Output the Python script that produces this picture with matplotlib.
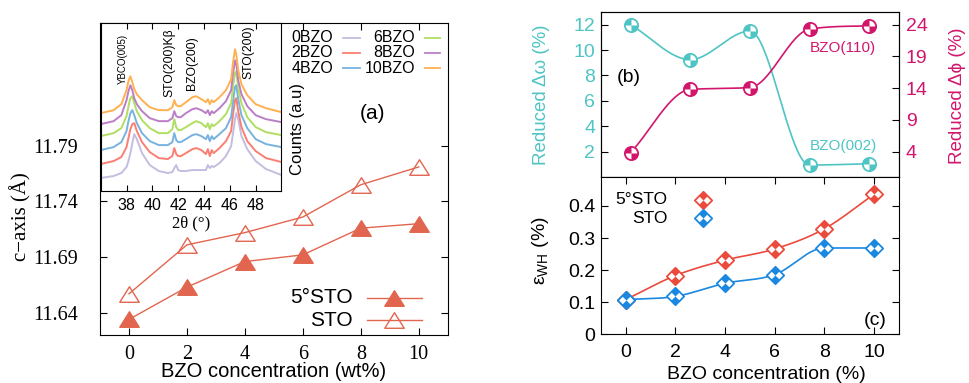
import numpy as np
import matplotlib
matplotlib.use('Agg')
import matplotlib.pyplot as plt
from matplotlib.path import Path

SANS = 'Liberation Sans'
SERIF = 'Liberation Serif'
plt.rcParams['font.family'] = [SANS, 'DejaVu Sans']
plt.rcParams['mathtext.fontset'] = 'custom'
plt.rcParams['mathtext.rm'] = SANS
plt.rcParams['mathtext.it'] = SANS + ':italic'

# ---------------- data ----------------
# panel (a)
a_conc = [0, 2, 4, 6, 8, 10]
a_5sto = [11.634, 11.663, 11.686, 11.692, 11.716, 11.720]
a_sto = [11.657, 11.701, 11.712, 11.726, 11.755, 11.771]
a_yticks = [11.64, 11.69, 11.74, 11.79]

# inset XRD (2theta grid, counts in arbitrary units incl. vertical offsets)
tth = [36.0, 37.0, 37.6, 38.0, 38.15, 38.3, 38.45, 38.6, 38.8, 39.2, 39.8, 40.5,
       41.2, 41.55, 41.7, 41.85, 42.0, 42.2, 42.6, 43.1, 43.4, 43.8, 44.15, 44.3,
       44.45, 44.6, 44.75, 45.2, 45.7, 46.1, 46.25, 46.4, 46.5, 46.65, 46.9, 47.35,
       48.0, 48.8, 50.0]
xrd_0bzo = [13, 15, 18, 24, 30, 38, 48, 57, 52, 38, 26, 20, 18, 19, 23, 26, 21, 20,
            20, 21, 21, 21, 21, 26, 23, 25, 24, 28, 35, 45, 58, 72, 78, 72, 55, 42,
            30, 22, 16]
xrd_2bzo = [27, 30, 34, 44, 53, 62, 67, 68, 60, 49, 39, 33, 32, 35, 43, 37, 35, 35,
            38, 42, 43, 41, 37, 42, 35, 41, 38, 43, 50, 60, 77, 91, 93, 80, 64, 50,
            40, 33, 29]
xrd_4bzo = [41, 44, 49, 60, 70, 78, 81, 76, 68, 58, 50, 46, 46, 49, 58, 51, 49, 49,
            52, 56, 57, 55, 52, 56, 50, 55, 52, 57, 63, 74, 90, 104, 106, 92, 76, 63,
            52, 47, 44]
xrd_6bzo = [55, 58, 63, 75, 85, 93, 95, 88, 80, 71, 63, 58, 58, 62, 72, 64, 61, 61,
            64, 68, 70, 68, 64, 68, 62, 67, 65, 70, 77, 88, 105, 118, 120, 103, 88,
            74, 64, 59, 56]
xrd_8bzo = [67, 70, 76, 91, 100, 106, 101, 93, 87, 80, 73, 70, 70, 73, 80, 75, 74,
            74, 78, 82, 83, 81, 78, 81, 76, 80, 78, 83, 90, 101, 118, 131, 127, 111,
            97, 85, 76, 72, 69]
xrd_10bzo = [78, 81, 87, 101, 110, 115, 109, 102, 97, 91, 84, 81, 81, 84, 91, 86, 85,
             85, 89, 94, 95, 92, 89, 92, 87, 91, 89, 94, 101, 112, 129, 142, 137, 121,
             107, 96, 87, 83, 79]
xrd_labels = ['0BZO', '2BZO', '4BZO', '6BZO', '8BZO', '10BZO']
xrd_colors = ['#c4bde0', '#fa7f72', '#78b2df', '#b0de62', '#bb7ec6', '#ffb050']

# panel (b)
b_pos = [1, 2, 3, 4, 5]
b_omega = [12.0, 9.25, 11.5, 0.95, 1.05]
b_phi = [3.85, 13.8, 14.1, 23.3, 23.8]

# panel (c)
c_conc = [0, 2, 4, 6, 8, 10]
c_5sto = [0.108, 0.183, 0.231, 0.266, 0.329, 0.437]
c_sto = [0.108, 0.118, 0.159, 0.186, 0.269, 0.269]

RED_A = '#e2664f'
CYAN = '#4fc4c4'
MAG = '#d2166c'
RED_C = '#ea4b3c'
BLUE_C = '#1a88e0'


def mono_spline(x, y, num=300):
    """Monotone (Fritsch-Carlson) cubic spline, like gnuplot 'smooth mcsplines'."""
    x = np.asarray(x, float)
    y = np.asarray(y, float)
    n = len(x)
    h = np.diff(x)
    delta = np.diff(y) / h
    m = np.zeros(n)
    m[0] = delta[0]
    m[-1] = delta[-1]
    for i in range(1, n - 1):
        if delta[i - 1] * delta[i] <= 0:
            m[i] = 0.0
        else:
            m[i] = 0.5 * (delta[i - 1] + delta[i])
    for k in range(n - 1):
        if delta[k] == 0:
            m[k] = m[k + 1] = 0.0
        else:
            a = m[k] / delta[k]
            b = m[k + 1] / delta[k]
            s = a * a + b * b
            if s > 9:
                t = 3 / np.sqrt(s)
                m[k] = t * a * delta[k]
                m[k + 1] = t * b * delta[k]
    xs = np.linspace(x[0], x[-1], num)
    idx = np.clip(np.searchsorted(x, xs) - 1, 0, n - 2)
    hk = h[idx]
    t = (xs - x[idx]) / hk
    h00 = 2 * t ** 3 - 3 * t ** 2 + 1
    h10 = t ** 3 - 2 * t ** 2 + t
    h01 = -2 * t ** 3 + 3 * t ** 2
    h11 = t ** 3 - t ** 2
    ys = h00 * y[idx] + h10 * hk * m[idx] + h01 * y[idx + 1] + h11 * hk * m[idx + 1]
    return xs, ys


# custom markers
tri = Path([(0, 0.8), (-1, -0.8), (1, -0.8), (0, 0.8)],
           [Path.MOVETO, Path.LINETO, Path.LINETO, Path.CLOSEPOLY])
diam = Path([(0, 1), (1, 0), (0, -1), (-1, 0), (0, 1)],
            [Path.MOVETO, Path.LINETO, Path.LINETO, Path.LINETO, Path.CLOSEPOLY])
diam_fill = Path([(0, 1), (0.5, 0.5), (0, 0), (-0.5, 0.5), (0, 1),
                  (0, 0), (0.5, -0.5), (0, -1), (-0.5, -0.5), (0, 0)],
                 [Path.MOVETO, Path.LINETO, Path.LINETO, Path.LINETO, Path.CLOSEPOLY] * 2)
circ_fill = Path.make_compound_path(Path.wedge(90, 180), Path.wedge(270, 360))

fig = plt.figure(figsize=(9.69, 3.83), dpi=100)

# ---------------- panel (a) ----------------
axa = fig.add_axes([0.1032, 0.1253, 0.3588, 0.8137])
axa.plot(a_conc, a_5sto, '-', color=RED_A, lw=1.0, marker=tri, ms=14,
         mfc=RED_A, mec=RED_A, mew=1.0)
axa.plot(a_conc, a_sto, '-', color=RED_A, lw=1.0, marker=tri, ms=14,
         mfc='none', mec=RED_A, mew=1.0)
axa.set_xlim(-1, 11)
axa.set_ylim(11.62, 11.90)
axa.set_xticks(a_conc)
axa.set_yticks(a_yticks)
axa.set_yticklabels([f'{v:.2f}' for v in a_yticks])
axa.tick_params(direction='in', length=5, top=True, right=True, width=0.8)
axa.tick_params(axis='y', pad=16)
axa.tick_params(axis='x', pad=7)
for lab in axa.get_xticklabels() + axa.get_yticklabels():
    lab.set_fontfamily(SERIF)
    lab.set_fontsize(14.5)
axa.set_xlabel('BZO concentration (wt%)', fontsize=14.5)
axa.xaxis.set_label_coords(0.5, -0.088)
axa.set_ylabel('c\u2212axis (Å)', fontsize=15, fontfamily=SERIF)
axa.yaxis.set_label_coords(-0.196, 0.38)
axa.text(0.785, 0.712, '(a)', transform=axa.transAxes, fontsize=15,
         ha='center', va='center')
# legend (manual, right aligned text)
for yy, lab, face in [(0.12, '5°STO', RED_A), (0.048, 'STO', 'none')]:
    axa.text(0.727, yy, lab, transform=axa.transAxes, fontsize=15,
             ha='right', va='center')
    axa.plot([0.767, 0.925], [yy, yy], transform=axa.transAxes, color=RED_A, lw=1.0)
    axa.plot([0.846], [yy], transform=axa.transAxes, linestyle='none', marker=tri,
             ms=14, mfc=face, mec=RED_A, mew=1.0)
# xrd legend
leg_pos = [(0.670, 0.699, 0.748), (0.906, 0.935, 0.978)]
leg_rows = [0.954, 0.906, 0.856]
for k, (lab, col) in enumerate(zip(xrd_labels, xrd_colors)):
    cx = leg_pos[k // 3]
    yy = leg_rows[k % 3]
    axa.text(cx[0], yy, lab, transform=axa.transAxes, fontsize=11.5,
             ha='right', va='center')
    axa.plot([cx[1], cx[2]], [yy, yy], transform=axa.transAxes, color=col, lw=1.3)

# inset
axi = fig.add_axes([0.1039, 0.5013, 0.1866, 0.4377])
for ys, col in zip([xrd_0bzo, xrd_2bzo, xrd_4bzo, xrd_6bzo, xrd_8bzo, xrd_10bzo],
                   xrd_colors):
    axi.plot(tth, ys, color=col, lw=1.4)
axi.set_xlim(36, 50)
axi.set_ylim(0, 168)
axi.set_yticks([])
axi.set_xticks([38, 40, 42, 44, 46, 48])
axi.tick_params(direction='in', length=4, top=True, labelsize=11.5, pad=5)
axi.set_xlabel('2θ (°)', fontsize=12, fontfamily=SERIF, labelpad=2)
axi.text(37.74, 107.7, 'YBCO(005)', rotation=90, fontsize=7, ha='center', va='bottom')
axi.text(41.33, 94.3, 'STO(200)Kβ', rotation=90, fontsize=8.7, ha='center', va='bottom')
axi.text(43.1, 101, 'BZO(200)', rotation=90, fontsize=8.7, ha='center', va='bottom')
axi.text(47.43, 112.7, 'STO(200)', rotation=90, fontsize=8.7, ha='center', va='bottom')
axi.text(1.09, 0.37, 'Counts (a.u)', rotation=90, fontsize=12, ha='center',
         va='center', transform=axi.transAxes)

# ---------------- panel (b) ----------------
axb = fig.add_axes([0.620, 0.5376, 0.3078, 0.4311])
axb2 = axb.twinx()
xs, ys = mono_spline(b_pos, b_omega)
axb.plot(xs, ys, color=CYAN, lw=1.2)
axb.plot(b_pos, b_omega, linestyle='none', marker='o', ms=9.5, mfc='white',
         mec=CYAN, mew=1.3)
axb.plot(b_pos, b_omega, linestyle='none', marker=circ_fill, ms=9.5, mfc=CYAN,
         mec='none')
xs, ys = mono_spline(b_pos, b_phi)
axb2.plot(xs, ys, color=MAG, lw=1.2)
axb2.plot(b_pos, b_phi, linestyle='none', marker='o', ms=9.5, mfc='white',
          mec=MAG, mew=1.3)
axb2.plot(b_pos, b_phi, linestyle='none', marker=circ_fill, ms=9.5, mfc=MAG,
          mec='none')
axb.set_xlim(0.5, 5.5)
axb.set_ylim(0, 13)
axb2.set_ylim(0, 26)
axb.set_xticks([])
axb.set_yticks([2, 4, 6, 8, 10, 12])
axb2.set_yticks([4, 9, 14, 19, 24])
axb.tick_params(axis='y', direction='in', length=5, labelsize=14, labelcolor=CYAN, pad=4)
axb2.tick_params(axis='y', direction='in', length=5, labelsize=14, labelcolor=MAG, pad=5)
axb.set_ylabel('Reduced Δω (%)', fontsize=13.5, color=CYAN)
axb.yaxis.set_label_coords(-0.17, 0.5)
axb2.set_ylabel('Reduced Δϕ (%)', fontsize=13.5, color=MAG, rotation=90)
axb2.yaxis.set_label_coords(1.166, 0.49)
axb.text(0.095, 0.605, '(b)', transform=axb.transAxes, fontsize=14,
         ha='center', va='center')
axb.text(0.812, 0.783, 'BZO(110)', transform=axb.transAxes, fontsize=11,
         ha='center', va='center', color=MAG)
axb.text(0.812, 0.188, 'BZO(002)', transform=axb.transAxes, fontsize=11,
         ha='center', va='center', color=CYAN)

# ---------------- panel (c) ----------------
axc = fig.add_axes([0.620, 0.1272, 0.3078, 0.4104])
for vals, col in [(c_5sto, RED_C), (c_sto, BLUE_C)]:
    xs, ys = mono_spline(c_conc, vals)
    axc.plot(xs, ys, color=col, lw=1.2)
    axc.plot(c_conc, vals, linestyle='none', marker=diam, ms=12.5, mfc='white',
             mec=col, mew=1.3)
    axc.plot(c_conc, vals, linestyle='none', marker=diam_fill, ms=12.5, mfc=col,
             mec='none')
axc.set_xlim(-1, 11)
axc.set_ylim(0, 0.49)
axc.set_xticks(c_conc)
axc.set_yticks([0, 0.1, 0.2, 0.3, 0.4])
axc.set_yticklabels(['0', '0.1', '0.2', '0.3', '0.4'])
axc.tick_params(direction='in', length=5, top=True, right=True, labelsize=14)
axc.tick_params(axis='x', pad=7)
axc.tick_params(axis='y', pad=4)
axc.set_xlabel('BZO concentration (%)', fontsize=14)
axc.xaxis.set_label_coords(0.556, -0.2)
axc.set_ylabel(r'$\mathregular{ε_{WH}}$ (%)', fontsize=14)
axc.yaxis.set_label_coords(-0.167, 0.53)
axc.text(0.92, 0.085, '(c)', transform=axc.transAxes, fontsize=14,
         ha='center', va='center')
for yy, lab, col in [(0.855, '5°STO', RED_C), (0.739, 'STO', BLUE_C)]:
    axc.text(0.2246, yy, lab, transform=axc.transAxes, fontsize=12.5,
             ha='right', va='center')
    axc.plot([0.342], [yy], transform=axc.transAxes, linestyle='none', marker=diam,
             ms=12.5, mfc='white', mec=col, mew=1.3)
    axc.plot([0.342], [yy], transform=axc.transAxes, linestyle='none',
             marker=diam_fill, ms=12.5, mfc=col, mec='none')

fig.savefig('out.png', dpi=100)
